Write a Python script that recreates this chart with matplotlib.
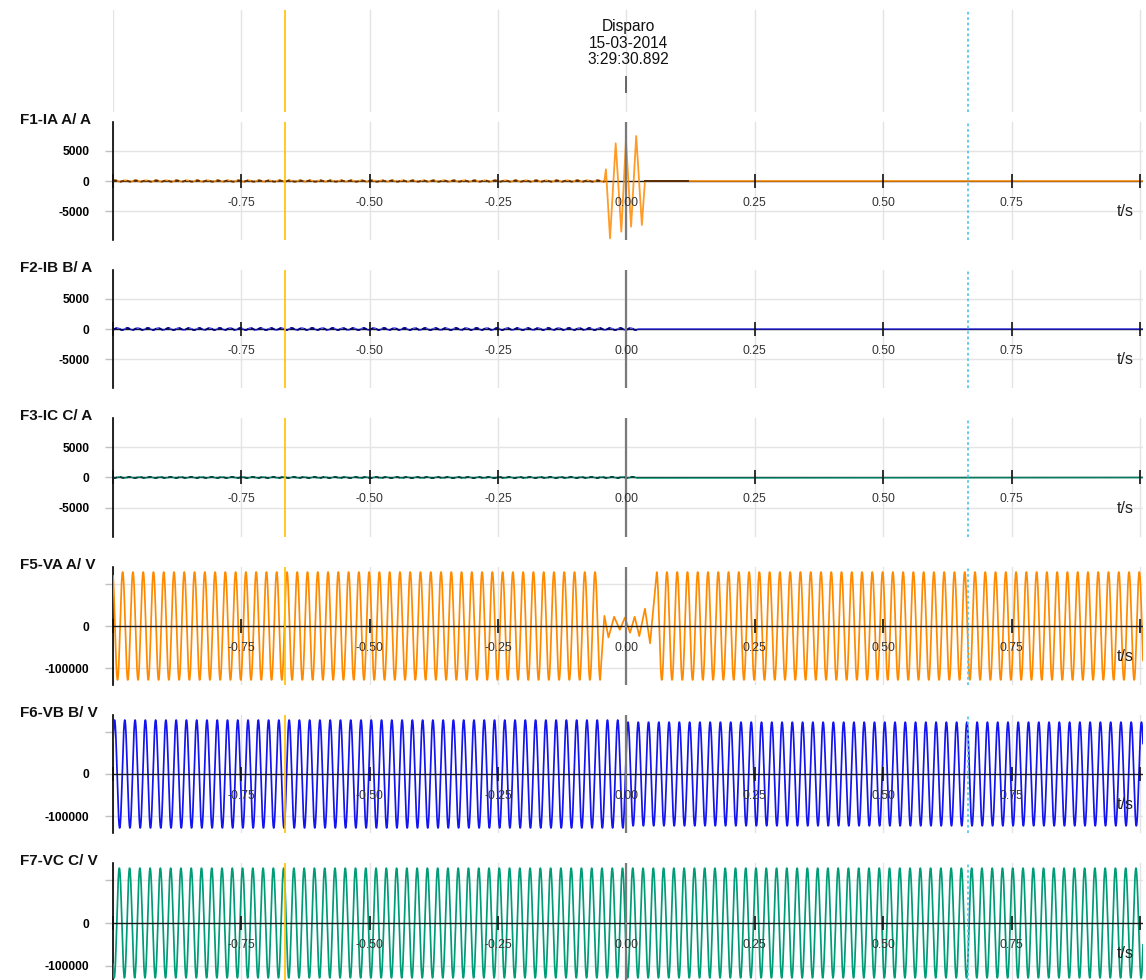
import numpy as np
import matplotlib
matplotlib.use('Agg')
import matplotlib.pyplot as plt

plt.rcParams['font.family'] = ['Liberation Sans', 'DejaVu Sans']

# ---------------- data ----------------
channel_labels = ['F1-IA A/ A', 'F2-IB B/ A', 'F3-IC C/ A',
                  'F5-VA A/ V', 'F6-VB B/ V', 'F7-VC C/ V']
x_ticks = [-1.0, -0.75, -0.5, -0.25, 0.0, 0.25, 0.5, 0.75, 1.0]
x_tick_labels = ['', '-0.75', '-0.50', '-0.25', '0.00', '0.25', '0.50', '0.75', '']
current_yticks = [-5000, 0, 5000]
current_ytick_labels = ['-5000', '0', '5000']
voltage_yticks = [-100000, 0, 100000]
voltage_ytick_labels = ['-100000', '0', '']
trigger_text = 'Disparo\n15-03-2014\n3:29:30.892'
cursor_a = -0.665
cursor_b = 0.665
t_start, t_end = -1.0, 1.006
line_freq = 50.0          # Hz
sample_rate = 4000.0      # samples/s

# currents: small pre-fault ripple (amplitude, peak time offset, end time)
ia_pre_amp, ia_pre_peak, ia_pre_end = 110, 0.004, -0.043
ib_pre_amp, ib_pre_peak, ib_pre_end = 170, 0.008, 0.023
ic_pre_amp, ic_pre_peak, ic_pre_end = 110, 0.012, 0.022
# IA fault burst (peak times / values)
ia_fault_t = [-0.043, -0.040, -0.032, -0.021, -0.010, -0.001, 0.009, 0.019, 0.030, 0.036]
ia_fault_v = [0, 1950, -9550, 6280, -8450, 6830, -7610, 7500, -7330, 0]
ia_hold_end = 0.12        # dark trace held at zero until here

# voltages: amplitude, time of a positive peak
va_amp, va_peak = 128000, -0.0012
vb_amp_pre, vb_amp_post, vb_peak = 128000, 123000, 0.0030
vc_amp, vc_peak = 128000, -0.0077
# VA sag during the fault
va_sag_start, va_sag_end = -0.0512, 0.0588
va_sag_t = [-0.043, -0.035, -0.024, -0.013, -0.003, 0.007, 0.016, 0.025, 0.036, 0.046]
va_sag_v = [24000, -27000, 22000, -9000, 20000, -16000, 22000, -24000, 41000, -41000]

# ---------------- signals ----------------
t = np.arange(t_start, t_end, 1.0 / sample_rate)


def wave(amp, peak):
    return amp * np.cos(2 * np.pi * line_freq * (t - peak))


def current_trace(amp, peak, end):
    m = t <= end
    return t[m], wave(amp, peak)[m]


ia_t_pre, ia_v_pre = current_trace(ia_pre_amp, ia_pre_peak, ia_pre_end)
ib_t_pre, ib_v_pre = current_trace(ib_pre_amp, ib_pre_peak, ib_pre_end)
ic_t_pre, ic_v_pre = current_trace(ic_pre_amp, ic_pre_peak, ic_pre_end)

ia_t = np.concatenate([ia_t_pre, ia_fault_t, [t_end]])
ia_v = np.concatenate([ia_v_pre, ia_fault_v, [0]])
ib_t = np.concatenate([ib_t_pre, [t_end]])
ib_v = np.concatenate([ib_v_pre, [0]])
ic_t = np.concatenate([ic_t_pre, [t_end]])
ic_v = np.concatenate([ic_v_pre, [0]])

va_full = wave(va_amp, va_peak)
m1 = t <= va_sag_start
m2 = t >= va_sag_end
va_t = np.concatenate([t[m1], va_sag_t, t[m2]])
va_v = np.concatenate([va_full[m1], va_sag_v, va_full[m2]])

vb_v = np.where(t < 0, wave(vb_amp_pre, vb_peak), wave(vb_amp_post, vb_peak))
vc_v = wave(vc_amp, vc_peak)

# ---------------- layout ----------------
W, H = 1146, 980
fig = plt.figure(figsize=(W / 100, H / 100), dpi=100)
x_left, x_right = 113, 1143
panel_px = [(122, 240), (270, 388), (418, 537), (567, 685), (715, 833), (863, 983)]

GRID = '#e4e4e4'
C_ORANGE = '#ff8a00'
C_BLUE = '#1414f0'
C_TEAL = '#009c78'


def px_axes(y0, y1):
    return fig.add_axes([x_left / W, 1 - y1 / H, (x_right - x_left) / W, (y1 - y0) / H])


hdr = px_axes(10, 112)
hdr.set_xlim(t_start, t_end)
hdr.set_ylim(0, 1)
hdr.axis('off')
for xv in x_ticks:
    hdr.axvline(xv, color=GRID, lw=1, zorder=0)
hdr.axvline(cursor_a, color='#ffc000', lw=1.2)
hdr.axvline(cursor_b, color='#5bc8ea', lw=1.3, ls=(0, (1.5, 1.5)))
hdr.plot([0, 0], [(112 - 92) / 102, (112 - 77) / 102], color='#666666', lw=1.4)
fig.text(628 / W, 1 - 43 / H, trigger_text, ha='center', va='center',
         fontsize=11.2, linespacing=1.1, color='#111111')


def style_panel(ax, label, yt, ytl, ylim, zero_on_top, y0px):
    ax.set_xlim(t_start, t_end)
    ax.set_ylim(*ylim)
    for s in ['top', 'right', 'bottom']:
        ax.spines[s].set_visible(False)
    ax.spines['left'].set_color('black')
    ax.spines['left'].set_linewidth(1.2)
    ax.set_xticks([])
    ax.set_yticks(yt)
    ax.set_yticklabels(ytl, fontsize=8.7, fontweight='bold')
    ax.tick_params(axis='y', length=6, pad=11, color='#c0c0c0', width=1)
    for tk, yv in zip(ax.yaxis.get_major_ticks(), yt):
        if yv == 0:
            tk.tick1line.set_color('#111111')
    for xv in x_ticks:
        ax.axvline(xv, color=GRID, lw=1, zorder=0)
    for yv in yt:
        if yv != 0:
            ax.axhline(yv, color=GRID, lw=1, zorder=0)
    ax.axhline(0, color='#1a1a1a', lw=1.0, zorder=5 if zero_on_top else 1)
    ax.plot(x_ticks, [0] * len(x_ticks), ls='none', marker='|', ms=10.5,
            mew=1.2, color='#111111', zorder=6, clip_on=False)
    for xv, lab in zip(x_ticks, x_tick_labels):
        if lab:
            ax.annotate(lab, xy=(xv, 0), xytext=(0, -15.8), textcoords='offset points',
                        ha='center', va='center', fontsize=8.7, color='#333333', zorder=9)
    ax.annotate('t/s', xy=(t_end, 0), xytext=(-12.5, -22.3), textcoords='offset points',
                ha='center', va='center', fontsize=11.5, color='#222222', zorder=9)
    ax.axvline(0, color='#7a7a7a', lw=1.6, zorder=7)
    ax.axvline(cursor_a, color='#ffc000', lw=1.2, zorder=8)
    ax.axvline(cursor_b, color='#5bc8ea', lw=1.3, ls=(0, (1.5, 1.5)), zorder=8)
    fig.text(20 / W, 1 - (y0px - 2) / H, label, ha='left', va='center',
             fontsize=11, fontweight='bold', color='#111111')


axes = [px_axes(a, b) for a, b in panel_px]
cur_lim = (-9833, 9833)
volt_lim = (-140000, 140000)

ax = axes[0]
style_panel(ax, channel_labels[0], current_yticks, current_ytick_labels, cur_lim, False, panel_px[0][0])
ax.plot(ia_t, ia_v, color=C_ORANGE, lw=1.3, alpha=0.85, zorder=3)
ax.plot(ia_t_pre, ia_v_pre, color='#5a2d00', lw=1.2, ls=(0, (2.5, 1.8)), zorder=4)
ax.plot([ia_fault_t[-1], ia_hold_end], [0, 0], color='#5a2d00', lw=1.4, zorder=4)

ax = axes[1]
style_panel(ax, channel_labels[1], current_yticks, current_ytick_labels, cur_lim, False, panel_px[1][0])
ax.plot(ib_t, ib_v, color=C_BLUE, lw=1.2, alpha=0.7, zorder=3)
ax.plot(ib_t_pre, ib_v_pre, color='#000070', lw=1.2, ls=(0, (2.5, 1.8)), zorder=4)

ax = axes[2]
style_panel(ax, channel_labels[2], current_yticks, current_ytick_labels, cur_lim, False, panel_px[2][0])
ax.plot(ic_t, ic_v, color=C_TEAL, lw=1.2, alpha=0.75, zorder=3)
ax.plot(ic_t_pre, ic_v_pre, color='#00403a', lw=1.2, ls=(0, (2.5, 1.8)), zorder=4)

ax = axes[3]
style_panel(ax, channel_labels[3], voltage_yticks, voltage_ytick_labels, volt_lim, True, panel_px[3][0])
ax.plot(va_t, va_v, color=C_ORANGE, lw=1.25, zorder=3)

ax = axes[4]
style_panel(ax, channel_labels[4], voltage_yticks, voltage_ytick_labels, volt_lim, True, panel_px[4][0])
ax.plot(t, vb_v, color=C_BLUE, lw=1.25, zorder=3)

ax = axes[5]
style_panel(ax, channel_labels[5], voltage_yticks, voltage_ytick_labels, volt_lim, True, panel_px[5][0])
ax.plot(t, vc_v, color=C_TEAL, lw=1.25, zorder=3)

fig.savefig('out.png', dpi=100)
